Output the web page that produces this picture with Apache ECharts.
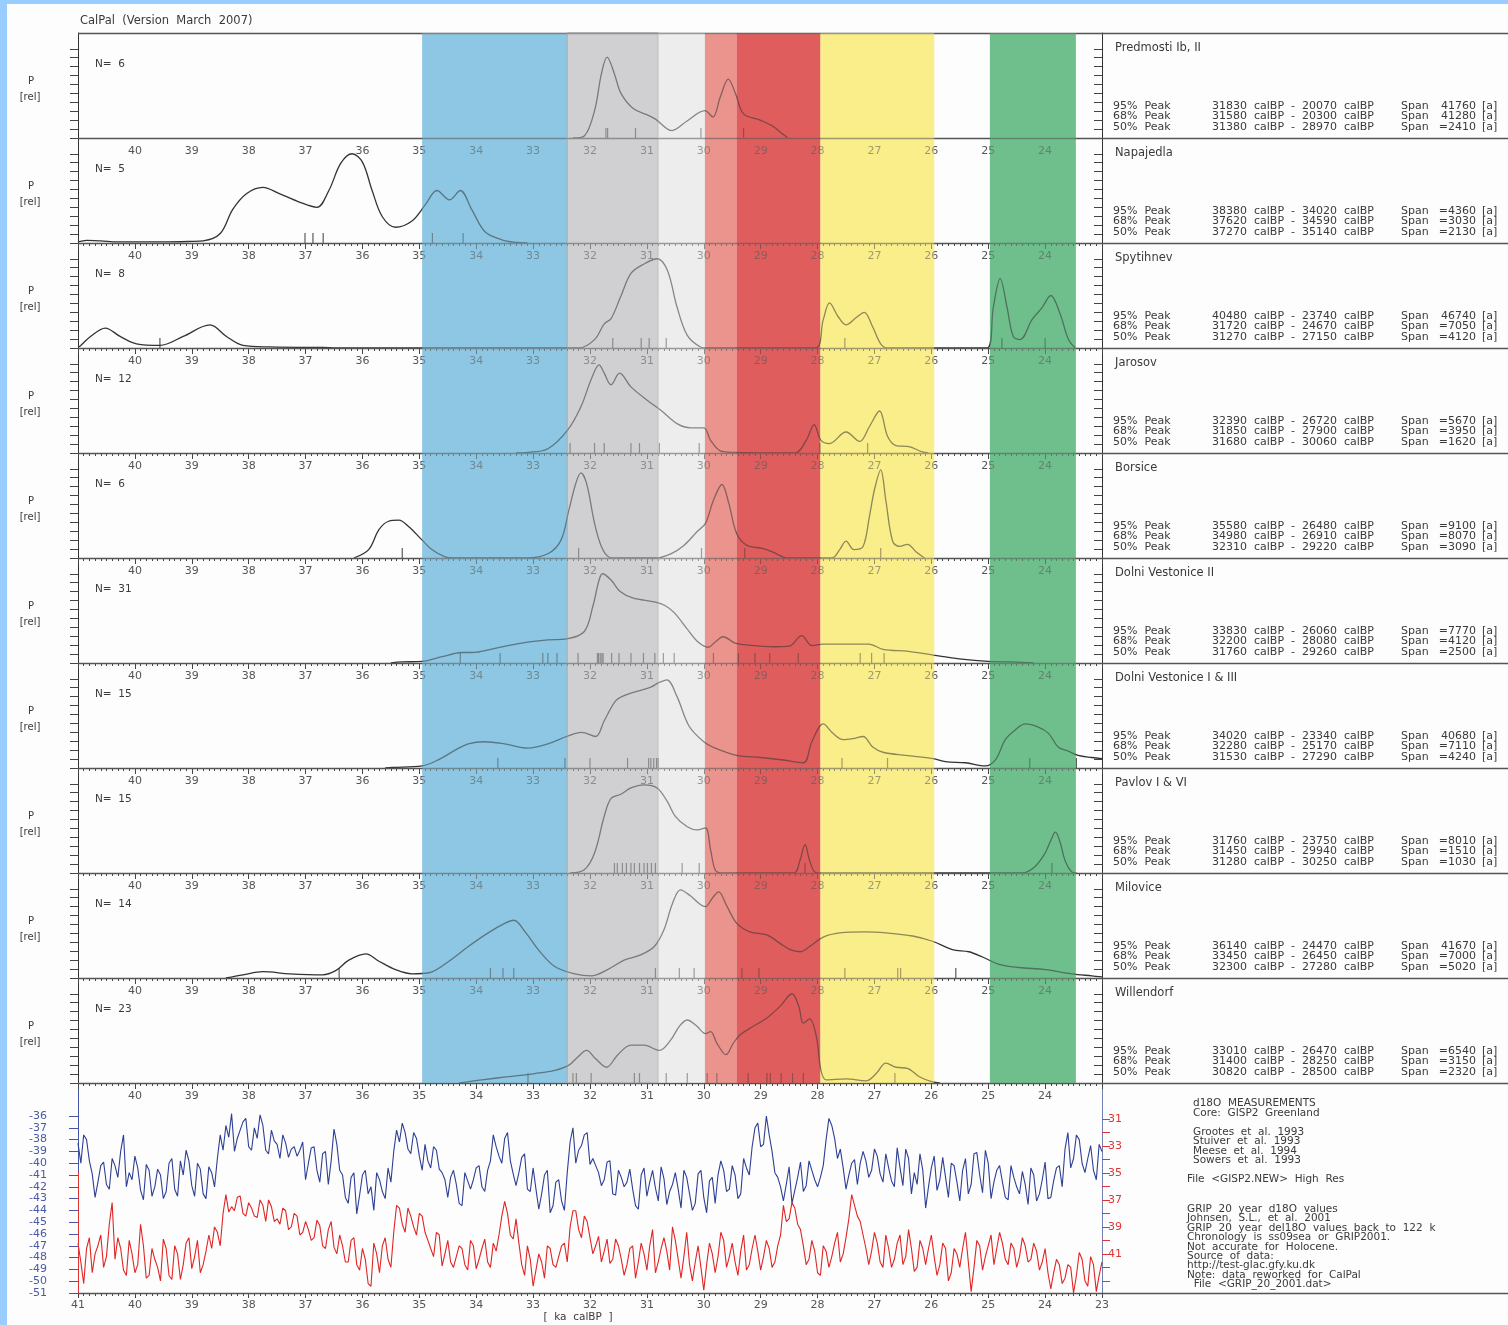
<!DOCTYPE html>
<html><head><meta charset="utf-8">
<script src="https://cdn.jsdelivr.net/npm/echarts@6/dist/echarts.min.js"></script>
<style>html,body{margin:0;padding:0;background:#fff}#c{width:1508px;height:1325px}</style>
</head><body><div id="c"></div><script>
// ---------------- DATA ----------------
const siteNames = ['Predmosti Ib, II','Napajedla','Spytihnev','Jarosov','Borsice','Dolni Vestonice II','Dolni Vestonice I & III','Pavlov I & VI','Milovice','Willendorf'];
const siteN = [6,5,8,12,6,31,15,15,14,23];
const peak95 = [['31830','20070','41760'],['38380','34020','=4360'],['40480','23740','46740'],['32390','26720','=5670'],['35580','26480','=9100'],['33830','26060','=7770'],['34020','23340','40680'],['31760','23750','=8010'],['36140','24470','41670'],['33010','26470','=6540']];
const peak68 = [['31580','20300','41280'],['37620','34590','=3030'],['31720','24670','=7050'],['31850','27900','=3950'],['34980','26910','=8070'],['32200','28080','=4120'],['32280','25170','=7110'],['31450','29940','=1510'],['33450','26450','=7000'],['31400','28250','=3150']];
const peak50 = [['31380','28970','=2410'],['37270','35140','=2130'],['31270','27150','=4120'],['31680','30060','=1620'],['32310','29220','=3090'],['31760','29260','=2500'],['31530','27290','=4240'],['31280','30250','=1030'],['32300','27280','=5020'],['30820','28500','=2320']];

// probability curves [ka calBP, relative P]
const curvePredmosti = [[32.3,0],[32.1,0.02],[31.92,0.26],[31.8,0.61],[31.7,0.77],[31.57,0.61],[31.46,0.43],[31.24,0.28],[30.99,0.22],[30.85,0.18],[30.56,0.07],[30.3,0.16],[29.98,0.26],[29.84,0.20],[29.71,0.39],[29.57,0.56],[29.44,0.42],[29.3,0.23],[29.01,0.17],[28.78,0.11],[28.62,0.04],[28.52,0]];
const curveNapajedla = [[41,0.01],[40.85,0.025],[40.6,0.02],[40.3,0.01],[39.5,0.01],[39.0,0.015],[38.8,0.02],[38.5,0.09],[38.28,0.32],[38.04,0.47],[37.75,0.53],[37.46,0.47],[37.11,0.39],[36.8,0.34],[36.59,0.50],[36.38,0.76],[36.18,0.85],[36.0,0.77],[35.83,0.50],[35.65,0.25],[35.42,0.15],[35.13,0.21],[34.9,0.36],[34.69,0.50],[34.47,0.41],[34.28,0.50],[34.08,0.32],[33.85,0.11],[33.55,0.03],[33.3,0.005],[33.1,0]];
const curveSpytihnev = [[41,0.01],[40.96,0.02],[40.78,0.11],[40.52,0.19],[40.26,0.11],[39.97,0.04],[39.56,0.025],[39.15,0.11],[38.68,0.22],[38.39,0.11],[38.1,0.025],[37.63,0.01],[36.7,0.005],[36.45,0],[32.2,0],[31.92,0.08],[31.75,0.23],[31.63,0.28],[31.46,0.49],[31.28,0.71],[31.05,0.80],[30.82,0.85],[30.64,0.74],[30.47,0.39],[30.29,0.12],[30.06,0.01],[29.95,0],[28.05,0],[27.9,0.27],[27.79,0.43],[27.64,0.30],[27.5,0.22],[27.32,0.29],[27.18,0.34],[27.03,0.20],[26.89,0.04],[26.77,0],[25.02,0],[24.91,0.39],[24.79,0.66],[24.67,0.39],[24.56,0.11],[24.44,0.08],[24.23,0.27],[24.06,0.38],[23.9,0.50],[23.74,0.33],[23.59,0.08],[23.47,0]];
const curveJarosov = [[33.3,0],[33.09,0.005],[32.74,0.04],[32.39,0.22],[32.16,0.44],[31.98,0.70],[31.84,0.84],[31.75,0.76],[31.63,0.65],[31.48,0.76],[31.28,0.63],[30.99,0.50],[30.76,0.41],[30.47,0.28],[30.23,0.24],[30.0,0.24],[29.88,0.12],[29.71,0.02],[29.48,0.005],[28.4,0],[28.2,0.12],[28.06,0.27],[27.94,0.12],[27.79,0.09],[27.5,0.20],[27.26,0.11],[27.09,0.25],[26.91,0.40],[26.77,0.16],[26.62,0.07],[26.39,0.06],[26.16,0.01],[26.05,0]];
const curveBorsice = [[36.15,0],[35.89,0.08],[35.71,0.27],[35.54,0.35],[35.36,0.36],[35.19,0.30],[34.95,0.17],[34.78,0.08],[34.55,0.01],[34.4,0],[33.1,0],[32.74,0.04],[32.51,0.17],[32.37,0.46],[32.25,0.71],[32.16,0.81],[32.06,0.71],[31.92,0.33],[31.8,0.11],[31.67,0.01],[31.55,0],[30.85,0],[30.58,0.04],[30.35,0.12],[30.12,0.25],[29.97,0.33],[29.83,0.55],[29.68,0.70],[29.56,0.52],[29.42,0.23],[29.24,0.12],[28.95,0.09],[28.72,0.04],[28.54,0],[27.75,0],[27.61,0.08],[27.5,0.16],[27.36,0.08],[27.2,0.11],[27.09,0.39],[27.0,0.65],[26.89,0.84],[26.8,0.55],[26.68,0.16],[26.56,0.11],[26.42,0.13],[26.27,0.06],[26.12,0]];
const curveDV2 = [[35.5,0],[35.3,0.01],[34.95,0.015],[34.6,0.06],[34.25,0.10],[34.08,0.10],[33.67,0.14],[33.2,0.19],[32.74,0.22],[32.41,0.23],[32.1,0.30],[31.95,0.54],[31.84,0.79],[31.78,0.85],[31.63,0.79],[31.47,0.68],[31.25,0.62],[30.85,0.58],[30.69,0.55],[30.52,0.48],[30.3,0.33],[30.1,0.20],[29.92,0.15],[29.8,0.20],[29.66,0.25],[29.45,0.19],[29.2,0.17],[28.78,0.155],[28.5,0.16],[28.28,0.26],[28.1,0.165],[27.9,0.18],[27.5,0.18],[27.1,0.18],[26.85,0.13],[26.4,0.11],[25.97,0.076],[25.51,0.04],[25.0,0.015],[24.58,0.01],[24.2,0]];
const curveDV13 = [[35.6,0],[35.48,0.005],[34.95,0.02],[34.66,0.08],[34.37,0.17],[34.14,0.23],[33.85,0.25],[33.5,0.23],[33.09,0.19],[32.74,0.23],[32.41,0.30],[32.15,0.34],[31.9,0.30],[31.75,0.45],[31.55,0.64],[31.4,0.69],[31.18,0.73],[30.93,0.77],[30.8,0.81],[30.65,0.84],[30.47,0.68],[30.26,0.40],[30.0,0.25],[29.8,0.19],[29.42,0.12],[29.0,0.10],[28.6,0.076],[28.25,0.05],[28.1,0.25],[27.9,0.42],[27.73,0.33],[27.55,0.27],[27.38,0.28],[27.2,0.30],[27.03,0.20],[26.85,0.15],[26.45,0.12],[25.97,0.09],[25.75,0.06],[25.4,0.05],[25.05,0.02],[24.87,0.08],[24.7,0.27],[24.53,0.36],[24.35,0.42],[24.12,0.39],[23.94,0.33],[23.77,0.20],[23.59,0.16],[23.42,0.12],[23.18,0.10],[23.0,0.09]];
const curvePavlov = [[32.35,0],[32.1,0.03],[31.92,0.19],[31.75,0.54],[31.63,0.71],[31.46,0.75],[31.28,0.81],[31.05,0.84],[30.82,0.81],[30.64,0.68],[30.5,0.54],[30.29,0.44],[30.12,0.41],[29.97,0.43],[29.88,0.22],[29.8,0.03],[29.7,0],[28.42,0],[28.31,0.12],[28.22,0.27],[28.14,0.12],[28.05,0.01],[27.95,0],[24.4,0],[24.18,0.06],[24.0,0.19],[23.9,0.31],[23.82,0.39],[23.74,0.30],[23.65,0.12],[23.53,0.01],[23.45,0]];
const curveMilovice = [[38.4,0],[38.1,0.03],[37.75,0.06],[37.28,0.04],[36.7,0.03],[36.47,0.07],[36.24,0.17],[35.94,0.23],[35.71,0.16],[35.42,0.08],[35.13,0.04],[34.83,0.05],[34.48,0.16],[34.14,0.30],[33.79,0.43],[33.5,0.52],[33.34,0.55],[33.14,0.44],[32.91,0.27],[32.62,0.11],[32.27,0.04],[31.98,0.02],[31.69,0.08],[31.4,0.17],[31.11,0.22],[30.87,0.30],[30.7,0.46],[30.55,0.71],[30.41,0.84],[30.23,0.78],[30.06,0.70],[29.97,0.68],[29.85,0.76],[29.74,0.82],[29.59,0.68],[29.42,0.52],[29.19,0.44],[28.89,0.41],[28.66,0.33],[28.48,0.27],[28.31,0.25],[28.14,0.30],[27.9,0.39],[27.61,0.43],[27.15,0.44],[26.8,0.43],[26.33,0.40],[25.98,0.35],[25.63,0.27],[25.34,0.25],[25.1,0.20],[24.81,0.13],[24.46,0.10],[24.0,0.08],[23.53,0.04],[23.18,0.02],[23.0,0.01]];
const curveWillendorf = [[34.3,0],[33.9,0.03],[33.44,0.06],[32.97,0.09],[32.62,0.12],[32.37,0.17],[32.21,0.25],[32.06,0.31],[31.9,0.23],[31.71,0.15],[31.51,0.27],[31.28,0.36],[31.05,0.36],[30.78,0.31],[30.58,0.41],[30.43,0.54],[30.29,0.60],[30.12,0.54],[29.97,0.47],[29.88,0.49],[29.77,0.38],[29.61,0.27],[29.48,0.38],[29.36,0.46],[29.13,0.54],[28.89,0.62],[28.66,0.73],[28.45,0.85],[28.33,0.73],[28.25,0.57],[28.14,0.61],[28.02,0.44],[27.94,0.12],[27.85,0.03],[27.5,0.04],[27.15,0.02],[26.97,0.09],[26.8,0.19],[26.62,0.15],[26.42,0.14],[26.21,0.06],[25.98,0.01],[25.85,0]];
const curves = [curvePredmosti,curveNapajedla,curveSpytihnev,curveJarosov,curveBorsice,curveDV2,curveDV13,curvePavlov,curveMilovice,curveWillendorf];

// individual 14C dates (ka calBP)
const datesPredmosti = [31.72,31.69,31.2,30.05,29.3];
const datesNapajedla = [37.01,36.87,36.69,34.77,34.23];
const datesSpytihnev = [39.56,31.6,31.1,30.96,30.66,27.52,24.76,24.0];
const datesJarosov = [32.35,31.92,31.75,31.28,31.13,30.78,30.08,27.96,27.12];
const datesBorsice = [35.3,32.2,30.04,29.28,26.89];
const datesDV2 = [34.28,33.58,32.83,32.74,32.58,32.21,31.87,31.85,31.82,31.79,31.77,31.62,31.49,31.28,31.06,30.86,30.71,30.52,29.83,29.39,29.1,28.84,28.34,27.25,27.05,26.83];
const datesDV13 = [33.62,32.44,32.0,31.34,30.97,30.93,30.88,30.83,30.8,27.57,26.77,24.27,23.45];
const datesPavlov = [31.57,31.52,31.43,31.36,31.28,31.22,31.13,31.05,30.99,30.92,30.85,30.38,30.08,28.22,23.88];
const datesMilovice = [36.41,33.75,33.53,33.34,30.85,30.43,30.17,29.33,29.03,27.52,26.59,26.54,25.57];
const datesWillendorf = [33.09,32.3,32.24,31.98,31.22,31.13,30.66,30.29,29.94,29.77,29.22,28.89,28.83,28.64,28.44,28.25,26.64];
const dates = [datesPredmosti,datesNapajedla,datesSpytihnev,datesJarosov,datesBorsice,datesDV2,datesDV13,datesPavlov,datesMilovice,datesWillendorf];

// climate phases (ka calBP)
const bandFrom = [34.95,32.4,30.8,29.98,29.42,27.95,24.97];
const bandTo   = [32.4,30.8,29.98,29.42,27.95,25.95,23.46];
const bandColors = ['#8DC7E3','#D0D0D2','#EDEDED','#EB948F','#E05E5E','#FAEE8A','#6FBF8D'];

// d18O series: values at 41.0, 40.9 ... 23.0 ka calBP, and in-between values at 40.95 ... 23.05
const D18O_START = 41.0, D18O_STEP = 0.1;
const gisp2 = [
-38.3,-37.6,-39.8,-42.9,-40.2,-41.8,-39.6,-41.2,-37.6,-40.8,
-39.4,-42.3,-40.1,-42.8,-40.5,-43.0,-40.0,-42.2,-39.8,-38.9,
-41.9,-40.0,-42.6,-40.3,-42.0,-37.6,-36.8,-35.8,-37.9,-36.5,
-38.6,-37.0,-35.9,-38.9,-37.2,-38.4,-37.6,-39.5,-38.6,-38.9,
-41.4,-38.7,-40.6,-39.2,-41.8,-37.1,-40.6,-42.9,-41.2,-44.3,
-41.0,-42.6,-44.0,-41.4,-43.0,-41.6,-37.2,-36.6,-38.8,-37.4,
-39.4,-38.4,-40.4,-38.9,-40.8,-42.9,-40.6,-43.4,-40.8,-42.2,
-40.4,-42.0,-40.6,-37.6,-39.4,-37.9,-39.8,-41.9,-39.5,-42.2,
-40.4,-43.9,-41.0,-44.2,-41.6,-43.2,-40.8,-37.0,-38.9,-37.6,
-40.1,-40.2,-41.9,-39.9,-42.6,-40.6,-42.0,-40.5,-43.6,-41.0,
-42.8,-40.6,-43.2,-41.3,-42.4,-40.8,-43.8,-41.2,-44.0,-40.9,
-42.9,-41.5,-43.4,-39.8,-42.4,-40.2,-43.0,-39.6,-41.0,-37.0,
-38.6,-36.0,-39.0,-41.2,-43.2,-40.3,-42.3,-39.9,-41.9,-40.6,
-42.0,-40.2,-36.2,-37.9,-38.8,-42.2,-40.0,-41.8,-39.0,-41.2,
-38.8,-40.9,-39.2,-41.5,-38.7,-41.9,-39.6,-40.8,-39.2,-43.8,
-40.4,-42.3,-39.5,-42.9,-40.2,-43.2,-39.6,-41.8,-39.1,-42.5,
-40.0,-41.6,-40.2,-42.9,-40.2,-42.0,-40.7,-43.5,-41.0,-42.6,
-39.9,-42.9,-40.4,-42.0,-37.4,-39.6,-38.0,-40.8,-38.5,-41.4,
-39.0
];
const gisp2Mid = [
-40.0,-38.0,-40.9,-41.6,-39.9,-42.2,-40.2,-39.0,-42.0,-41.4,
-40.4,-43.1,-40.6,-42.0,-41.0,-42.4,-39.6,-42.8,-41.0,-39.8,
-42.8,-40.5,-43.0,-40.8,-39.6,-38.9,-37.8,-39.0,-37.2,-36.2,
-38.9,-37.9,-36.8,-39.2,-38.1,-39.6,-38.3,-38.8,-39.4,-38.2,
-40.0,-38.6,-41.6,-39.0,-39.8,-38.4,-41.0,-43.4,-40.8,-42.7,
-40.6,-42.0,-40.8,-42.4,-40.4,-39.0,-38.2,-37.4,-39.2,-37.9,
-40.6,-39.8,-38.6,-40.5,-41.4,-41.2,-41.8,-43.6,-41.5,-41.4,
-40.2,-42.4,-39.8,-38.6,-40.0,-37.4,-40.9,-40.8,-39.2,-42.4,
-42.2,-42.6,-40.6,-43.6,-41.4,-44.0,-38.2,-40.0,-38.5,-37.4,
-39.6,-40.8,-41.4,-39.8,-42.7,-41.2,-41.6,-42.2,-43.9,-40.4,
-41.6,-42.1,-40.3,-43.5,-41.8,-42.2,-40.6,-42.6,-43.4,-40.6,
-44.2,-41.2,-41.0,-40.6,-42.2,-41.0,-42.6,-40.4,-38.6,-36.6,
-38.4,-37.6,-40.8,-42.0,-41.8,-43.4,-41.2,-42.4,-39.8,-41.4,
-41.2,-38.0,-36.8,-39.6,-40.4,-41.0,-39.7,-40.0,-39.8,-40.6,
-39.4,-41.6,-40.4,-42.0,-40.4,-38.8,-42.6,-41.8,-40.6,-42.0,
-39.4,-41.4,-41.2,-40.0,-41.6,-40.6,-42.6,-39.2,-41.0,-38.9,
-43.0,-40.6,-41.6,-43.1,-41.2,-42.6,-41.8,-40.4,-43.2,-41.4,
-43.0,-41.5,-40.2,-38.8,-40.4,-37.6,-40.0,-39.6,-40.6,-38.4
];
const grip = [
-40.2,-43.2,-39.8,-41.0,-39.6,-41.2,-37.2,-39.8,-42.2,-40.0,
-42.4,-38.8,-42.8,-40.6,-42.0,-39.9,-42.6,-40.4,-42.9,-40.2,
-42.1,-40.0,-41.8,-39.6,-39.0,-40.4,-36.6,-37.5,-36.8,-38.0,
-37.2,-38.2,-37.0,-38.6,-37.5,-38.4,-37.6,-39.2,-38.0,-39.6,
-38.6,-40.0,-38.5,-40.4,-39.2,-40.5,-39.6,-41.6,-40.0,-41.8,
-40.6,-43.2,-40.2,-42.4,-39.8,-42.0,-37.4,-38.8,-37.6,-39.0,
-38.0,-39.4,-40.6,-39.4,-41.9,-40.0,-42.0,-40.4,-41.8,-40.0,
-42.1,-40.6,-41.6,-40.2,-39.6,-37.1,-39.6,-38.4,-41.8,-40.4,
-43.4,-41.0,-42.8,-40.6,-42.0,-40.4,-41.6,-37.8,-39.2,-38.2,
-39.8,-40.4,-41.6,-39.9,-41.4,-40.4,-42.6,-40.6,-42.8,-40.2,
-42.2,-39.2,-41.6,-39.8,-42.2,-40.0,-42.8,-39.4,-43.0,-40.4,
-43.7,-40.2,-42.4,-39.4,-42.0,-40.2,-42.6,-39.6,-41.8,-39.6,
-42.2,-40.0,-42.0,-40.4,-37.4,-38.4,-37.6,-39.2,-41.8,-40.0,
-42.4,-40.4,-42.0,-40.2,-41.6,-39.8,-36.6,-38.2,-39.6,-41.8,
-39.4,-41.6,-39.6,-42.0,-40.2,-41.8,-39.2,-42.3,-40.0,-41.8,
-39.6,-42.6,-40.2,-43.0,-40.6,-42.0,-39.4,-43.8,-40.0,-42.2,
-40.4,-41.8,-39.4,-41.4,-40.2,-42.0,-39.8,-41.6,-40.2,-42.2,
-40.6,-43.6,-41.4,-43.2,-41.8,-43.9,-40.9,-43.0,-41.2,-43.8,
-41.6
];
const gripMid = [
-41.6,-40.6,-42.4,-40.4,-42.0,-38.8,-41.4,-40.6,-42.6,-41.0,
-41.8,-40.4,-42.6,-41.4,-43.0,-40.6,-42.9,-41.0,-41.8,-39.8,
-41.2,-42.4,-40.8,-40.6,-39.4,-38.0,-37.9,-37.8,-36.7,-38.2,
-37.6,-38.3,-37.4,-37.0,-38.6,-38.8,-37.8,-39.0,-38.2,-39.4,
-39.2,-39.8,-38.9,-40.6,-38.6,-41.0,-40.4,-41.6,-39.8,-42.2,
-41.4,-43.4,-41.0,-40.4,-41.4,-39.4,-37.6,-39.4,-38.2,-39.6,
-38.2,-40.0,-41.2,-39.6,-41.0,-41.6,-41.2,-40.6,-42.2,-40.4,
-41.4,-39.9,-42.0,-40.8,-38.2,-38.0,-39.9,-40.2,-42.6,-41.4,
-42.2,-41.6,-40.4,-41.8,-41.2,-40.2,-39.0,-37.8,-39.8,-38.6,
-41.0,-39.7,-40.8,-41.7,-39.9,-41.4,-41.8,-40.4,-41.6,-41.0,
-40.4,-42.4,-40.6,-40.8,-39.0,-41.4,-41.2,-41.8,-41.6,-42.0,
-41.8,-41.0,-41.2,-40.0,-41.2,-41.6,-40.8,-42.2,-40.6,-40.8,
-41.2,-40.6,-41.6,-39.6,-38.6,-37.2,-38.8,-40.4,-41.4,-40.8,
-42.6,-40.8,-41.2,-39.4,-41.0,-38.4,-37.4,-38.6,-40.6,-40.8,
-40.2,-42.0,-40.6,-41.4,-39.6,-41.2,-40.6,-42.0,-40.6,-40.6,
-41.2,-41.8,-40.6,-42.4,-41.0,-40.6,-41.6,-42.0,-40.4,-41.2,
-39.6,-40.6,-40.2,-41.8,-40.6,-41.2,-40.4,-41.4,-40.8,-41.6,
-42.4,-42.4,-41.8,-42.8,-42.0,-42.6,-41.4,-43.4,-41.8,-42.6
];

const blueTicks = [-36,-37,-38,-39,-40,-41,-42,-43,-44,-45,-46,-47,-48,-49,-50,-51];
const redTicks = [-31,-32,-33,-34,-35,-36,-37,-38,-39,-40,-41,-42,-43];
const redLabels = [-31,-33,-35,-37,-39,-41];
const panelTickFrac = [0,0.085,0.17,0.255,0.34,0.425,0.51,0.595,0.68,0.765,0.85];

const infoLines = [
 ['d18O  MEASUREMENTS',1193,1103],['Core:  GISP2  Greenland',1193,1113],
 ['Grootes  et  al.  1993',1193,1132],['Stuiver  et  al.  1993',1193,1141],['Meese  et  al.  1994',1193,1151],['Sowers  et  al.  1993',1193,1160],
 ['File  <GISP2.NEW>  High  Res',1187,1179],
 ['GRIP  20  year  d18O  values',1187,1209],['Johnsen,  S.L.,  et  al.  2001',1187,1218],['GRIP  20  year  del18O  values  back  to  122  k',1187,1228],
 ['Chronology  is  ss09sea  or  GRIP2001.',1187,1237],['Not  accurate  for  Holocene.',1187,1247],['Source  of  data:',1187,1256],
 ['http://test-glac.gfy.ku.dk',1187,1265],['Note:  data  reworked  for  CalPal',1187,1275],['  File  <GRIP_20_2001.dat>',1187,1284]
];

// ---------------- CHART ----------------
function interleave(main, mid) {
  const out = [];
  for (let i = 0; i < main.length; i++) {
    const t = D18O_START - i * D18O_STEP;
    out.push([t, main[i]]);
    if (i < mid.length) out.push([t - D18O_STEP / 2, mid[i]]);
  }
  return out;
}
const FONT = '"DejaVu Sans", sans-serif';
const L = 78, W = 1024, T0 = 33, PH = 105;
const grids = [], xAxes = [], yAxes = [], series = [], els = [];
const tickCol = '#444', labCol = '#555';
function topAxis(gi, show) {
  return {gridIndex: gi, type: 'value', min: 23, max: 41, inverse: true, interval: 1, position: 'top', show: show, z: 2,
    axisLine: {show: false},
    axisTick: {show: true, inside: true, length: 6, lineStyle: {color: tickCol}},
    minorTick: {show: true, splitNumber: 10, length: 3, lineStyle: {color: tickCol}},
    axisLabel: {inside: true, margin: 8, showMinLabel: false, showMaxLabel: false, color: labCol, fontSize: 11, fontFamily: FONT},
    splitLine: {show: false}, minorSplitLine: {show: false}};
}
for (let i = 0; i < 10; i++) {
  grids.push({left: L, top: T0 + PH * i, width: W, height: PH});
  xAxes.push(topAxis(i, i > 0));
}
grids.push({left: L, top: 1083, width: W, height: 210}); // 10
grids.push({left: L, top: T0, width: W, height: PH * 10}); // 11 overlay
xAxes.push(topAxis(10, true)); // 10
xAxes.push({gridIndex: 10, type: 'value', min: 23, max: 41, inverse: true, interval: 1, position: 'bottom', z: 2,
  axisLine: {show: false},
  axisTick: {show: true, inside: false, length: 5, lineStyle: {color: tickCol}},
  minorTick: {show: true, splitNumber: 10, length: 3, lineStyle: {color: tickCol}},
  axisLabel: {margin: 7, color: labCol, fontSize: 11, fontFamily: FONT},
  splitLine: {show: false}, minorSplitLine: {show: false}}); // 11
xAxes.push({gridIndex: 11, type: 'value', min: 23, max: 41, inverse: true, show: false}); // 12

for (let i = 0; i < 10; i++) {
  yAxes.push({gridIndex: i, type: 'value', min: 0, max: 1, position: 'left', z: 2,
    axisLine: {show: true, lineStyle: {color: '#333'}},
    axisTick: {show: true, length: 8, customValues: panelTickFrac, lineStyle: {color: tickCol}},
    axisLabel: {show: false}, splitLine: {show: false}});
}
for (let i = 0; i < 10; i++) {
  yAxes.push({gridIndex: i, type: 'value', min: 0, max: 1, position: 'right', z: 2,
    axisLine: {show: true, lineStyle: {color: '#333'}},
    axisTick: {show: true, inside: true, length: 8, customValues: panelTickFrac, lineStyle: {color: tickCol}},
    axisLabel: {show: false}, splitLine: {show: false}});
}
const Y_BLUE = yAxes.length;
yAxes.push({gridIndex: 10, type: 'value', min: -51, max: -33.2, position: 'left', z: 2,
  axisLine: {show: true, lineStyle: {color: '#4455AA'}},
  axisTick: {show: true, length: 9, customValues: blueTicks, lineStyle: {color: '#4455AA'}},
  axisLabel: {customValues: blueTicks, color: '#4A5AA6', fontSize: 11, fontFamily: FONT, margin: 31},
  splitLine: {show: false}});
const Y_RED = yAxes.length;
yAxes.push({gridIndex: 10, type: 'value', min: -43.9, max: -28.33, position: 'right', z: 2,
  axisLine: {show: true, lineStyle: {color: '#7080B4'}},
  axisTick: {show: true, length: 8, customValues: redTicks, lineStyle: {color: '#E03535'}},
  axisLabel: {customValues: redLabels, color: '#E03535', fontSize: 11, fontFamily: FONT, margin: 2},
  splitLine: {show: false}});
const Y_OV = yAxes.length;
yAxes.push({gridIndex: 11, type: 'value', min: 0, max: 1, show: false});

function bandSeries(z, opacity) {
  return {type: 'custom', xAxisIndex: 12, yAxisIndex: Y_OV, z: z, silent: true, clip: false,
    data: bandFrom.map((f, i) => [f, bandTo[i], i]), encode: {x: [0, 1]},
    renderItem: function (params, api) {
      const a = api.coord([api.value(0), 1]), b = api.coord([api.value(1), 0]);
      const i = api.value(2);
      return {type: 'rect', shape: {x: Math.min(a[0], b[0]), y: a[1], width: Math.abs(b[0] - a[0]), height: b[1] - a[1]},
        style: {fill: bandColors[i], opacity: opacity, stroke: i === 1 ? '#A8A8A8' : null, lineWidth: 1}};
    }};
}
series.push(bandSeries(1, 1));      // phase colours beneath the curves
series.push(bandSeries(30, 0.45));  // translucent wash that tints curves and labels
for (let i = 0; i < 10; i++) {
  series.push({type: 'line', xAxisIndex: i, yAxisIndex: i, data: curves[i], showSymbol: false, smooth: 0.35,
    lineStyle: {color: '#333', width: 1.3}, silent: true, z: 3});
  series.push({type: 'scatter', xAxisIndex: i, yAxisIndex: i, data: dates[i].map(t => [t, 0]),
    symbol: 'rect', symbolSize: [1.2, 10], symbolOffset: [0, -5], itemStyle: {color: '#333'}, silent: true, clip: false, z: 3});
}
series.push({type: 'line', xAxisIndex: 11, yAxisIndex: Y_BLUE, showSymbol: false, silent: true, z: 3,
  data: interleave(gisp2, gisp2Mid), lineStyle: {color: '#2E3F94', width: 1.1}});
series.push({type: 'line', xAxisIndex: 11, yAxisIndex: Y_RED, showSymbol: false, silent: true, z: 3,
  data: interleave(grip, gripMid), lineStyle: {color: '#E02525', width: 1.1}});

// frame and text
function txt(text, x, y, o) {
  o = o || {};
  els.push({type: 'text', x: x, y: y, z: 50, silent: true,
    style: {text: text, fill: o.fill || '#3A3A3A', font: (o.size || 11) + 'px ' + FONT,
      textAlign: o.align || 'left', align: o.align || 'left', textVerticalAlign: 'middle', verticalAlign: 'middle'}});
}
function line(x1, y1, x2, y2, col, w, z) {
  els.push({type: 'line', z: z || 5, silent: true, shape: {x1: x1, y1: y1, x2: x2, y2: y2}, style: {stroke: col, lineWidth: w}});
}
els.push({type: 'rect', z: 60, silent: true, shape: {x: 0, y: 0, width: 7, height: 1325}, style: {fill: '#99CCFF'}});
els.push({type: 'rect', z: 60, silent: true, shape: {x: 0, y: 0, width: 1508, height: 4}, style: {fill: '#99CCFF'}});
for (let k = 0; k <= 10; k++) line(L, T0 + PH * k + 0.5, 1508, T0 + PH * k + 0.5, '#555', 1.5, 5);
line(L, 1293.5, 1508, 1293.5, '#555', 1.5, 5);
line(L + 0.5, 1172, L + 0.5, 1293, '#E03535', 1, 6);

txt('CalPal  (Version  March  2007)', 80, 21, {size: 11.5});
for (let i = 0; i < 10; i++) {
  const t = T0 + PH * i;
  txt('P', 31, t + 48, {size: 10, align: 'center'});
  txt('[rel]', 30, t + 64, {size: 10, align: 'center'});
  txt('N=  ' + siteN[i], 95, t + 31, {size: 10.5});
  txt(siteNames[i], 1115, t + 15, {size: 11.5});
  const rows = [['95%  Peak', peak95[i]], ['68%  Peak', peak68[i]], ['50%  Peak', peak50[i]]];
  rows.forEach((r, j) => {
    const y = t + 73 + j * 10.5;
    txt(r[0], 1113, y, {size: 11});
    txt(r[1][0] + '  calBP  -  ' + r[1][1] + '  calBP', 1212, y, {size: 11});
    txt('Span', 1401, y, {size: 11});
    txt(r[1][2], 1476, y, {size: 11, align: 'right'});
    txt('[a]', 1482, y, {size: 11});
  });
}
infoLines.forEach(l => txt(l[0], l[1], l[2], {size: 10.5}));
txt('[  ka  calBP  ]', 578, 1317, {size: 10.5, align: 'center'});

const chart = echarts.init(document.getElementById('c'), null, {renderer: 'canvas'});
chart.setOption({animation: false, backgroundColor: '#FDFDFD', grid: grids, xAxis: xAxes, yAxis: yAxes, series: series, graphic: {elements: els}});
</script></body></html>
